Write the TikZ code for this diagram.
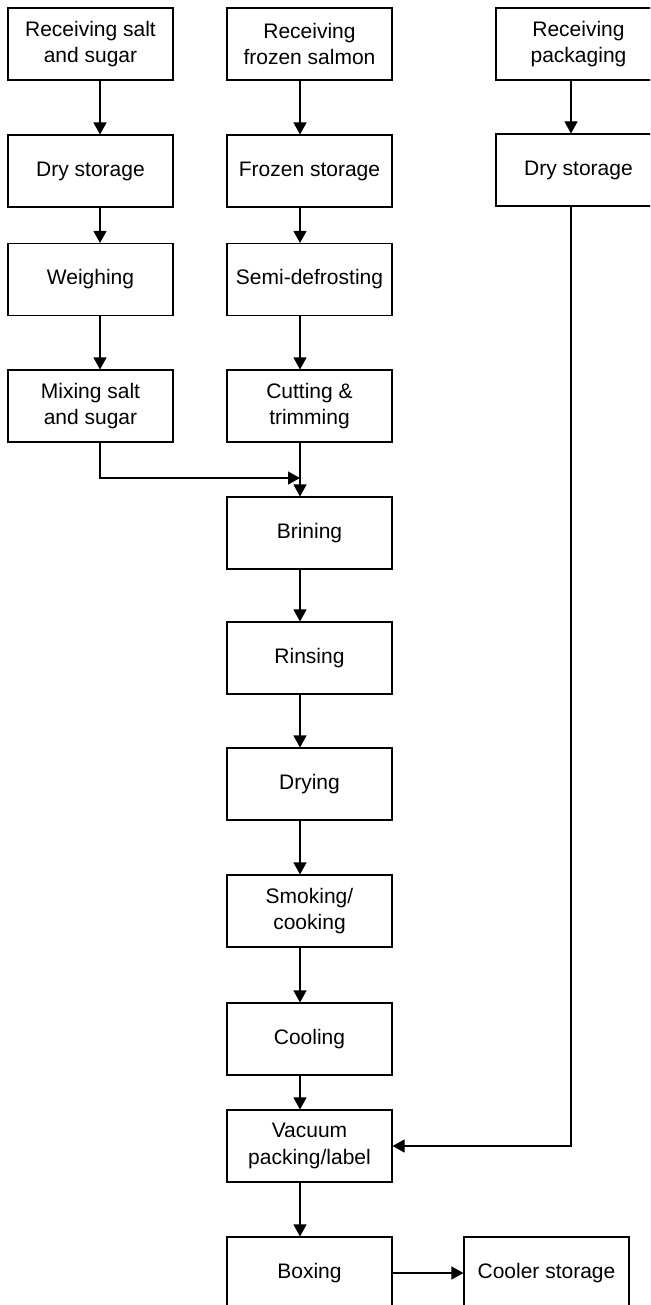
\documentclass[tikz,border=0pt]{standalone}
\usepackage{fontspec}
\setmainfont{Liberation Sans}
\usetikzlibrary{arrows.meta}
\begin{document}
\begin{tikzpicture}[x=1pt,y=-1pt,
  procbox/.style={draw=black, line width=1.1pt, minimum width=165pt, minimum height=72pt,
    inner sep=0pt, align=center, font=\fontsize{21}{26.5}\selectfont},
  flow/.style={line width=1.1pt, -{Triangle[width=13pt,length=12pt]}}]
\useasboundingbox (0,0) rectangle (650,1305);
\clip (0,0) rectangle (650,1305);
\fill[white] (0,0) rectangle (650,1305);
% column anchors for connectors
\coordinate (xa) at (100,0);
\coordinate (xb) at (300,0);
\coordinate (xc) at (571,0);
\coordinate (join) at (300,478);
% column 1
\node[procbox] (rs) at (90.5,44) {Receiving salt\\and sugar};
\node[procbox] (ds1) at (90.5,171) {Dry storage};
\node[procbox] (wg) at (90.5,279.5) {Weighing};
\node[procbox] (mx) at (90.5,406) {Mixing salt\\and sugar};
% column 2
\node[procbox] (rf) at (309.5,44) {Receiving\\frozen salmon};
\node[procbox] (fs) at (309.5,171) {Frozen storage};
\node[procbox] (sd) at (309.5,279.5) {Semi-defrosting};
\node[procbox] (ct) at (309.5,406) {Cutting \&\\trimming};
\node[procbox] (br) at (309.5,533) {Brining};
\node[procbox] (ri) at (309.5,658) {Rinsing};
\node[procbox] (dr) at (309.5,784) {Drying};
\node[procbox] (sm) at (309.5,911) {Smoking/\\cooking};
\node[procbox] (co) at (309.5,1039) {Cooling};
\node[procbox] (vp) at (309.5,1146) {Vacuum\\packing/label};
\node[procbox] (bx) at (309.5,1273) {Boxing};
% column 3
\node[procbox] (rp) at (578.5,44) {Receiving\\packaging};
\node[procbox] (ds3) at (578.5,170) {Dry storage};
\node[procbox] (cs) at (546.5,1273) {Cooler storage};
% connectors column 1
\draw[flow] (rs.south -| xa) -- (ds1.north -| xa);
\draw[flow] (ds1.south -| xa) -- (wg.north -| xa);
\draw[flow] (wg.south -| xa) -- (mx.north -| xa);
% connectors column 2
\draw[flow] (rf.south -| xb) -- (fs.north -| xb);
\draw[flow] (fs.south -| xb) -- (sd.north -| xb);
\draw[flow] (sd.south -| xb) -- (ct.north -| xb);
\draw[flow] (ct.south -| xb) -- (br.north -| xb);
\draw[flow] (mx.south -| xa) |- (join);
\draw[flow] (br.south -| xb) -- (ri.north -| xb);
\draw[flow] (ri.south -| xb) -- (dr.north -| xb);
\draw[flow] (dr.south -| xb) -- (sm.north -| xb);
\draw[flow] (sm.south -| xb) -- (co.north -| xb);
\draw[flow] (co.south -| xb) -- (vp.north -| xb);
\draw[flow] (vp.south -| xb) -- (bx.north -| xb);
% column 3
\draw[flow] (rp.south -| xc) -- (ds3.north -| xc);
\draw[flow] (ds3.south -| xc) |- (vp.east);
\draw[flow] (bx.east) -- (cs.west);
\end{tikzpicture}
\end{document}
